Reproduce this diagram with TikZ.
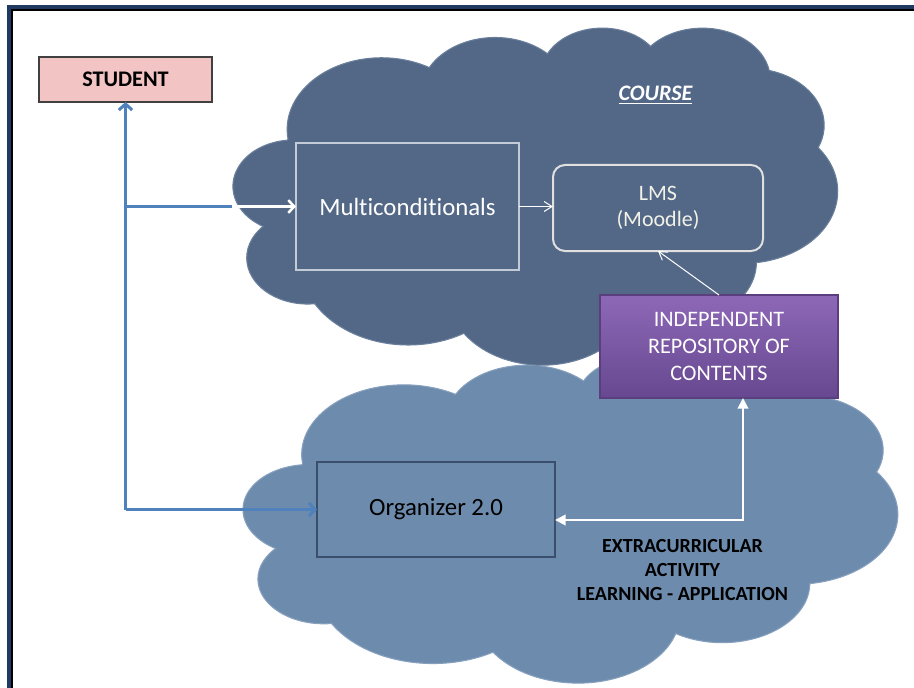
\documentclass[tikz,border=0pt]{standalone}
\usepackage{fontspec}
\setmainfont{Carlito}[Ligatures=NoCommon]
\usetikzlibrary{arrows.meta,shadings}
\definecolor{navyframe}{HTML}{1F3A60}
\definecolor{cloudA}{HTML}{536887}
\definecolor{cloudAedge}{HTML}{6A7F9C}
\definecolor{cloudB}{HTML}{6D8BAC}
\definecolor{cloudBedge}{HTML}{86A0BE}
\definecolor{linkblue}{HTML}{4F81BD}
\definecolor{studpink}{HTML}{F2C4C4}
\definecolor{purtop}{HTML}{8D68B7}
\definecolor{purbot}{HTML}{674890}
\definecolor{purdraw}{HTML}{5B3E7E}
\definecolor{orgdraw}{HTML}{3A4F6C}
\definecolor{multidraw}{HTML}{C3CBD6}
\definecolor{lmstext}{HTML}{F2F2E6}
\tikzset{
  boxbase/.style={inner sep=0pt, outer sep=0pt, align=center},
  studentbox/.style={boxbase, draw=black!75, line width=1.5pt, fill=studpink,
    minimum width=129.75pt, minimum height=33.75pt, font=\fontsize{16.7}{20}\selectfont\bfseries},
  multibox/.style={boxbase, draw=multidraw, line width=1.5pt,
    minimum width=167.25pt, minimum height=95.25pt, text=white, font=\fontsize{18.6}{22}\selectfont},
  lmsbox/.style={boxbase, draw=white!88!black, line width=1.5pt, rounded corners=9pt,
    minimum width=157.5pt, minimum height=64.5pt, text=lmstext, font=\fontsize{16.5}{19.5}\selectfont},
  repobox/.style={boxbase, draw=purdraw, line width=1pt, top color=purtop, bottom color=purbot,
    minimum width=178.5pt, minimum height=77.25pt, text=white, font=\fontsize{16.6}{20.6}\selectfont},
  orgbox/.style={boxbase, draw=orgdraw, line width=1.5pt,
    minimum width=178.5pt, minimum height=71.25pt, text=black, font=\fontsize{18.6}{22}\selectfont},
  plainlabel/.style={boxbase},
  blueconn/.style={draw=linkblue, line width=2.25pt},
  bluetip/.style={-{Straight Barb[length=4.5pt,width=10pt]}},
  whiteconn/.style={draw=white, line width=1.9pt},
  thinwhite/.style={draw=white, line width=0.75pt, -{Straight Barb[length=6pt,width=7.5pt]}},
  elbowconn/.style={draw=white, line width=1.5pt, {Triangle[length=8pt,width=8pt]}-{Triangle[length=8pt,width=8pt]}},
  cloudtop/.style={fill=cloudA, draw=cloudAedge, line width=0.8pt},
  cloudbottom/.style={fill=cloudB, draw=cloudBedge, line width=0.8pt}
}
\begin{document}
\begin{tikzpicture}[x=0.75pt,y=-0.75pt]
\useasboundingbox (0,0) rectangle (914,688);
\clip (0,0) rectangle (914,688);
\fill[white] (0,0) rectangle (914,688);

% frame
\draw[navyframe, line width=3pt] (9,700) -- (9,7) -- (930,7);
\draw[black, line width=1.5pt] (12,700) -- (12,10) -- (930,10);

% bottom cloud
\begin{scope}[shift={(243.6,355)}, x=1.1354pt, y=-0.5677pt]
\path[cloudbottom] (39,143.7)
 arc[start angle=-187.74,end angle=-59.64,x radius=67.53,y radius=91.90]
 arc[start angle=-152.03,end angle=-45.47,x radius=53.33,y radius=72.67]
 arc[start angle=-153.50,end angle=-37.33,x radius=43.65,y radius=59.45]
 arc[start angle=-139.71,end angle=-10.21,x radius=48.57,y radius=65.95]
 arc[start angle=-74.78,end angle=23.23,x radius=53.33,y radius=72.73]
 arc[start angle=-37.50,end angle=81.85,x radius=67.75,y radius=92.20]
 arc[start angle=0.46,end angle=122.03,x radius=57.85,y radius=78.67]
 arc[start angle=16.87,end angle=146.19,x radius=67.52,y radius=92.15]
 arc[start angle=59.04,end angle=150.12,x radius=77.20,y radius=105.43]
 arc[start angle=83.29,end angle=222.99,x radius=43.60,y radius=59.18]
 arc[start angle=120.25,end angle=264.13,x radius=43.45,y radius=59.45]
 -- cycle;
\end{scope}

% top cloud
\begin{scope}[shift={(233.5,27)}, x=1.0486pt, y=-0.5851pt]
\path[cloudtop] (39,143.7)
 arc[start angle=-187.74,end angle=-59.64,x radius=67.53,y radius=91.90]
 arc[start angle=-152.03,end angle=-45.47,x radius=53.33,y radius=72.67]
 arc[start angle=-153.50,end angle=-37.33,x radius=43.65,y radius=59.45]
 arc[start angle=-139.71,end angle=-10.21,x radius=48.57,y radius=65.95]
 arc[start angle=-74.78,end angle=23.23,x radius=53.33,y radius=72.73]
 arc[start angle=-37.50,end angle=81.85,x radius=67.75,y radius=92.20]
 arc[start angle=0.46,end angle=122.03,x radius=57.85,y radius=78.67]
 arc[start angle=16.87,end angle=146.19,x radius=67.52,y radius=92.15]
 arc[start angle=59.04,end angle=150.12,x radius=77.20,y radius=105.43]
 arc[start angle=83.29,end angle=222.99,x radius=43.60,y radius=59.18]
 arc[start angle=120.25,end angle=264.13,x radius=43.45,y radius=59.45]
 -- cycle;
\end{scope}

% nodes
\node[studentbox] (student) at (125.5,79.5) {STUDENT};
\node[multibox] (multi) at (407.5,206.5) {Multiconditionals};
\node[lmsbox] (lms) at (658,208) {LMS\\(Moodle)};
\node[repobox] (repo) at (719,346.5) {INDEPENDENT\\REPOSITORY OF\\CONTENTS};
\node[orgbox] (org) at (436,509.5) {Organizer 2.0};
\node[plainlabel, text=white, font=\fontsize{16.6}{20}\selectfont\bfseries\itshape] (course) at (655.5,95) {\underline{COURSE}};
\node[plainlabel, font=\fontsize{15}{18}\selectfont\bfseries] (extra) at (682.5,570) {EXTRACURRICULAR\\ACTIVITY\\LEARNING - APPLICATION};

% connectors
\coordinate (corner) at (125.5,509.5);
\coordinate (tee) at (125.5,206.5);
\coordinate (wstart) at (232,206.5);
\coordinate (elbow) at (743,520);
\draw[blueconn, bluetip] (corner) -- (student.south);
\draw[blueconn, bluetip] (corner) -- (org.west);
\draw[blueconn] (tee) -- (wstart);
\draw[whiteconn, -{Straight Barb[length=4.5pt,width=9.5pt]}] (wstart) -- (multi.west);
\draw[thinwhite] (multi.east) -- (multi.east -| lms.west);
\draw[thinwhite] (repo.north) -- (lms.south);
\draw[elbowconn] (repo.south -| elbow) -- (elbow) -- (elbow -| org.east);
\end{tikzpicture}
\end{document}
